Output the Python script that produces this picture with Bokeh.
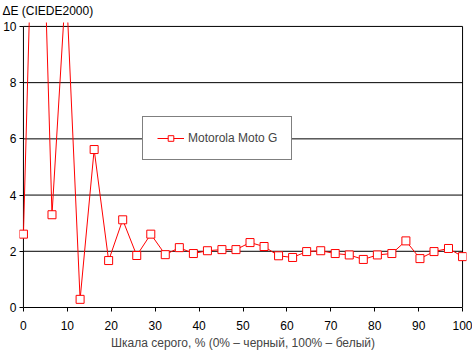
from bokeh.plotting import figure
from bokeh.models import Range1d, FixedTicker, Legend, LegendItem
from bokeh.embed import file_html
from bokeh.resources import INLINE

gray = [0, 3.2, 6.5, 9.7, 12.9, 16.1, 19.4, 22.6, 25.8, 29.0, 32.3, 35.5, 38.7, 41.9,
        45.2, 48.4, 51.6, 54.8, 58.1, 61.3, 64.5, 67.7, 71.0, 74.2, 77.4, 80.6, 83.9,
        87.1, 90.3, 93.5, 96.8, 100]
delta_e = [2.61, 21.0, 3.3, 11.6, 0.29, 5.62, 1.67, 3.12, 1.85, 2.61, 1.88, 2.13, 1.92,
           2.02, 2.06, 2.06, 2.31, 2.17, 1.84, 1.78, 1.99, 2.02, 1.92, 1.87, 1.71, 1.87,
           1.92, 2.37, 1.74, 1.99, 2.1, 1.81]
x_ticks = [0, 10, 20, 30, 40, 50, 60, 70, 80, 90, 100]
y_ticks = [0, 2, 4, 6, 8, 10]
series_name = "Motorola Moto G"
y_title = "ΔE (CIEDE2000)"
x_title = "Шкала серого, % (0% – черный, 100% – белый)"

FONT = "Liberation Sans"
X_MIN, X_MAX = x_ticks[0], x_ticks[-1]
Y_MIN, Y_MAX = y_ticks[0], y_ticks[-1]

p = figure(width=472, height=352, output_backend="svg", toolbar_location=None,
           x_range=Range1d(-0.9, 100.9), y_range=Range1d(0, 10.14),
           min_border_left=18, min_border_right=6, min_border_top=22, min_border_bottom=43,
           outline_line_color=None, background_fill_color="white", border_fill_color="white")

p.title.text = y_title
p.title.align = "left"
p.title.offset = -17
p.title.text_font = FONT
p.title.text_font_size = "12px"
p.title.text_font_style = "normal"
p.title.text_color = "black"
p.title.standoff = 6
p.title.vertical_align = "top"

p.xgrid.grid_line_color = None
p.ygrid.grid_line_color = None

# horizontal gridlines and vertical borders limited to the 0..100 x 0..10 plot area
grid_y = y_ticks[1:]
p.segment(x0=[X_MIN] * len(grid_y), x1=[X_MAX] * len(grid_y), y0=grid_y, y1=grid_y,
          line_color="black", line_width=1)
p.segment(x0=[X_MIN, X_MAX], x1=[X_MIN, X_MAX], y0=[Y_MIN, Y_MIN], y1=[Y_MAX, Y_MAX],
          line_color="black", line_width=1)

for ax, ticks in ((p.xaxis[0], x_ticks), (p.yaxis[0], y_ticks)):
    ax.ticker = FixedTicker(ticks=ticks)
    ax.major_tick_line_color = "black"
    ax.minor_tick_line_color = None
    ax.major_label_text_font = FONT
    ax.major_label_text_font_size = "12px"
    ax.major_label_text_color = "black"

p.xaxis.axis_line_color = "black"
p.xaxis.bounds = (X_MIN, X_MAX)
p.xaxis.major_tick_in = 0
p.xaxis.major_tick_out = 4
p.xaxis.major_label_standoff = 9

# y axis sits at the frame edge; ticks point inward up to the x=0 line
p.yaxis.axis_line_color = None
p.yaxis.major_tick_in = 4
p.yaxis.major_tick_out = 0
p.yaxis.major_label_standoff = 3

p.xaxis.axis_label = x_title
p.xaxis.axis_label_text_font = FONT
p.xaxis.axis_label_text_font_size = "12px"
p.xaxis.axis_label_text_font_style = "normal"
p.xaxis.axis_label_standoff = 3

line = p.line(gray, delta_e, line_color="#ff0000", line_width=1)
sq = p.scatter(gray, delta_e, marker="square", size=8, line_color="#ff0000",
               fill_color="white", line_width=1)

legend = Legend(items=[LegendItem(label=series_name, renderers=[line, sq])],
                location=(123, 147), orientation="vertical")
legend.border_line_color = "black"
legend.border_line_width = 1
legend.background_fill_color = "white"
legend.background_fill_alpha = 1
legend.label_text_font = FONT
legend.label_text_font_size = "12px"
legend.glyph_width = 27
legend.glyph_height = 14
legend.label_standoff = 4
legend.padding = 14
legend.margin = 0
p.add_layout(legend, "center")

open("out.html", "w").write(file_html(p, INLINE))
